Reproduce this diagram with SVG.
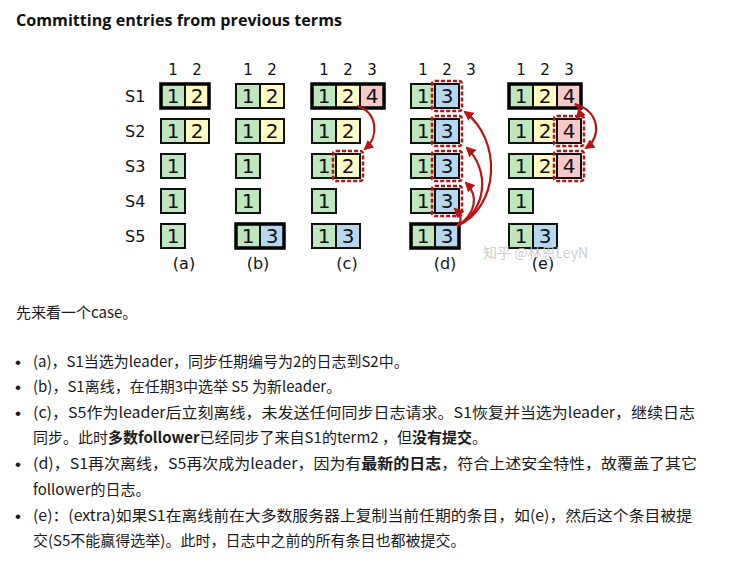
<svg xmlns="http://www.w3.org/2000/svg" width="738" height="571" viewBox="0 0 738 571">
<style>
.g{fill:#bfe6bf}.y{fill:#fffac3}.p{fill:#f8c9c9}.b{fill:#b6d7ef}
.c{stroke:#111;stroke-width:2}
.ld{fill:none;stroke:#000;stroke-width:3.5}
.n{font-family:"DejaVu Sans",sans-serif;font-size:20px;fill:#111;text-anchor:middle}
.h{font-family:"DejaVu Sans",sans-serif;font-size:15px;fill:#111;text-anchor:middle}
.s{font-family:"DejaVu Sans",sans-serif;font-size:16px;fill:#111}
.lab{font-family:"DejaVu Sans",sans-serif;font-size:16px;fill:#111;text-anchor:middle}
.d{fill:none;stroke:#b81414;stroke-width:2.5;stroke-dasharray:4 2}
.a{fill:none;stroke:#b81414;stroke-width:2.2}
.t{font-family:"Noto Sans CJK SC","Noto Sans",sans-serif;font-size:15px;fill:#1a1a1a}
.bl{font-family:"Liberation Sans",sans-serif;font-size:17px;fill:#1a1a1a}
.bd{font-weight:700}
</style>
<defs>
<marker id="ah" markerWidth="10" markerHeight="10" refX="8" refY="5" orient="auto" markerUnits="userSpaceOnUse"><path d="M0,0 L10,5 L0,10 Z" fill="#b81414"/></marker>
</defs>
<rect width="738" height="571" fill="#fff"/>
<text x="16" y="26" font-family="'Open Sans','Liberation Sans',sans-serif" font-weight="700" font-size="15.5" fill="#111" textLength="326" lengthAdjust="spacingAndGlyphs">Committing entries from previous terms</text>

<g id="headers">
<text class="h" x="173" y="75">1</text><text class="h" x="197" y="75">2</text>
<text class="h" x="248" y="75">1</text><text class="h" x="272" y="75">2</text>
<text class="h" x="324" y="75">1</text><text class="h" x="348" y="75">2</text><text class="h" x="372" y="75">3</text>
<text class="h" x="423" y="75">1</text><text class="h" x="447" y="75">2</text><text class="h" x="471" y="75">3</text>
<text class="h" x="521" y="75">1</text><text class="h" x="545" y="75">2</text><text class="h" x="569" y="75">3</text>
</g>
<g id="servers">
<text class="s" x="125" y="102">S1</text>
<text class="s" x="125" y="137">S2</text>
<text class="s" x="125" y="172">S3</text>
<text class="s" x="125" y="207">S4</text>
<text class="s" x="125" y="242">S5</text>
</g>

<g id="col-a">
<rect class="c g" x="161" y="84" width="24" height="24"/><rect class="c y" x="185" y="84" width="24" height="24"/><rect class="ld" x="161" y="84" width="48" height="24"/>
<text class="n" x="173" y="103">1</text><text class="n" x="197" y="103">2</text>
<rect class="c g" x="161" y="119" width="24" height="24"/><rect class="c y" x="185" y="119" width="24" height="24"/>
<text class="n" x="173" y="138">1</text><text class="n" x="197" y="138">2</text>
<rect class="c g" x="161" y="154" width="24" height="24"/><text class="n" x="173" y="173">1</text>
<rect class="c g" x="161" y="189" width="24" height="24"/><text class="n" x="173" y="208">1</text>
<rect class="c g" x="161" y="224" width="24" height="24"/><text class="n" x="173" y="243">1</text>
<text class="lab" x="184" y="269">(a)</text>
</g>

<g id="col-b">
<rect class="c g" x="236" y="84" width="24" height="24"/><rect class="c y" x="260" y="84" width="24" height="24"/>
<text class="n" x="248" y="103">1</text><text class="n" x="272" y="103">2</text>
<rect class="c g" x="236" y="119" width="24" height="24"/><rect class="c y" x="260" y="119" width="24" height="24"/>
<text class="n" x="248" y="138">1</text><text class="n" x="272" y="138">2</text>
<rect class="c g" x="236" y="154" width="24" height="24"/><text class="n" x="248" y="173">1</text>
<rect class="c g" x="236" y="189" width="24" height="24"/><text class="n" x="248" y="208">1</text>
<rect class="c g" x="236" y="224" width="24" height="24"/><rect class="c b" x="260" y="224" width="24" height="24"/><rect class="ld" x="236" y="224" width="48" height="24"/>
<text class="n" x="248" y="243">1</text><text class="n" x="272" y="243">3</text>
<text class="lab" x="258" y="269">(b)</text>
</g>

<g id="col-c">
<rect class="c g" x="312" y="84" width="24" height="24"/><rect class="c y" x="336" y="84" width="24" height="24"/><rect class="c p" x="360" y="84" width="24" height="24"/><rect class="ld" x="312" y="84" width="72" height="24"/>
<text class="n" x="324" y="103">1</text><text class="n" x="348" y="103">2</text><text class="n" x="372" y="103">4</text>
<rect class="c g" x="312" y="119" width="24" height="24"/><rect class="c y" x="336" y="119" width="24" height="24"/>
<text class="n" x="324" y="138">1</text><text class="n" x="348" y="138">2</text>
<rect class="c g" x="312" y="154" width="24" height="24"/><rect class="c y" x="336" y="154" width="24" height="24"/>
<text class="n" x="324" y="173">1</text><text class="n" x="348" y="173">2</text>
<rect class="d" x="333" y="151" width="30" height="30" rx="3"/>
<rect class="c g" x="312" y="189" width="24" height="24"/><text class="n" x="324" y="208">1</text>
<rect class="c g" x="312" y="224" width="24" height="24"/><rect class="c b" x="336" y="224" width="24" height="24"/>
<text class="n" x="324" y="243">1</text><text class="n" x="348" y="243">3</text>
<text class="lab" x="347" y="269">(c)</text>
</g>

<g id="col-d">
<rect class="c g" x="411" y="84" width="24" height="24"/><rect class="c b" x="435" y="84" width="24" height="24"/>
<text class="n" x="423" y="103">1</text><text class="n" x="447" y="103">3</text>
<rect class="d" x="432" y="81" width="30" height="30" rx="3"/>
<rect class="c g" x="411" y="119" width="24" height="24"/><rect class="c b" x="435" y="119" width="24" height="24"/>
<text class="n" x="423" y="138">1</text><text class="n" x="447" y="138">3</text>
<rect class="d" x="432" y="116" width="30" height="30" rx="3"/>
<rect class="c g" x="411" y="154" width="24" height="24"/><rect class="c b" x="435" y="154" width="24" height="24"/>
<text class="n" x="423" y="173">1</text><text class="n" x="447" y="173">3</text>
<rect class="d" x="432" y="151" width="30" height="30" rx="3"/>
<rect class="c g" x="411" y="189" width="24" height="24"/><rect class="c b" x="435" y="189" width="24" height="24"/>
<text class="n" x="423" y="208">1</text><text class="n" x="447" y="208">3</text>
<rect class="d" x="432" y="186" width="30" height="30" rx="3"/>
<rect class="c g" x="411" y="224" width="24" height="24"/><rect class="c b" x="435" y="224" width="24" height="24"/><rect class="ld" x="411" y="224" width="48" height="24"/>
<text class="n" x="423" y="243">1</text><text class="n" x="447" y="243">3</text>
<text class="lab" x="445" y="269">(d)</text>
</g>

<g id="col-e">
<rect class="c g" x="509" y="84" width="24" height="24"/><rect class="c y" x="533" y="84" width="24" height="24"/><rect class="c p" x="557" y="84" width="24" height="24"/><rect class="ld" x="509" y="84" width="72" height="24"/>
<text class="n" x="521" y="103">1</text><text class="n" x="545" y="103">2</text><text class="n" x="569" y="103">4</text>
<rect class="c g" x="509" y="119" width="24" height="24"/><rect class="c y" x="533" y="119" width="24" height="24"/><rect class="c p" x="557" y="119" width="24" height="24"/>
<text class="n" x="521" y="138">1</text><text class="n" x="545" y="138">2</text><text class="n" x="569" y="138">4</text>
<rect class="d" x="554" y="116" width="30" height="30" rx="3"/>
<rect class="c g" x="509" y="154" width="24" height="24"/><rect class="c y" x="533" y="154" width="24" height="24"/><rect class="c p" x="557" y="154" width="24" height="24"/>
<text class="n" x="521" y="173">1</text><text class="n" x="545" y="173">2</text><text class="n" x="569" y="173">4</text>
<rect class="d" x="554" y="151" width="30" height="30" rx="3"/>
<rect class="c g" x="509" y="189" width="24" height="24"/><text class="n" x="521" y="208">1</text>
<rect class="c g" x="509" y="224" width="24" height="24"/><rect class="c b" x="533" y="224" width="24" height="24"/>
<text class="n" x="521" y="243">1</text><text class="n" x="545" y="243">3</text>
<text class="lab" x="543" y="269">(e)</text>
</g>

<g id="connectors">
<path class="a" marker-end="url(#ah)" d="M357,106 C377,112 380,136 365,149"/>
<path class="a" marker-end="url(#ah)" d="M457,226 C463,221 461,215 455,209"/>
<path class="a" marker-end="url(#ah)" d="M457,226 C476,214 479,196 466,183"/>
<path class="a" marker-end="url(#ah)" d="M457,226 C487,211 490,170 467,148"/>
<path class="a" marker-end="url(#ah)" d="M457,226 C500,207 502,140 465,112"/>
<path class="a" marker-end="url(#ah)" d="M575,104 C581,108 581,113 577,118"/>
<path class="a" marker-end="url(#ah)" d="M575,104 C601,112 601,138 586,148"/>
</g>

<text x="483" y="258" font-family="'Noto Sans CJK SC',sans-serif" font-size="14" fill="#c8c8c8" fill-opacity="0.9">知乎 @林恩LeyN</text>

<g id="body">
<text class="t" x="16" y="318">先来看一个case。</text>
<text class="bl" x="15" y="368">•</text>
<text class="t" x="33" y="367">(a)，S1当选为leader，同步任期编号为2的日志到S2中。</text>
<text class="bl" x="15" y="393">•</text>
<text class="t" x="33" y="392">(b)，S1离线，在任期3中选举 S5 为新leader。</text>
<text class="bl" x="15" y="419">•</text>
<text class="t" x="33" y="418" textLength="662" lengthAdjust="spacingAndGlyphs">(c)，S5作为leader后立刻离线，未发送任何同步日志请求。S1恢复并当选为leader，继续日志</text>
<text class="t" x="33" y="443">同步。此时<tspan class="bd">多数follower</tspan>已经同步了来自S1的term2 ，但<tspan class="bd">没有提交</tspan>。</text>
<text class="bl" x="15" y="470">•</text>
<text class="t" x="33" y="469" textLength="664" lengthAdjust="spacingAndGlyphs">(d)，S1再次离线，S5再次成为leader，因为有<tspan class="bd">最新的日志</tspan>，符合上述安全特性，故覆盖了其它</text>
<text class="t" x="33" y="495">follower的日志。</text>
<text class="bl" x="15" y="522">•</text>
<text class="t" x="33" y="521" textLength="659" lengthAdjust="spacingAndGlyphs">(e)：(extra)如果S1在离线前在大多数服务器上复制当前任期的条目，如(e)，然后这个条目被提</text>
<text class="t" x="33" y="546">交(S5不能赢得选举)。此时，日志中之前的所有条目也都被提交。</text>
</g>
</svg>
